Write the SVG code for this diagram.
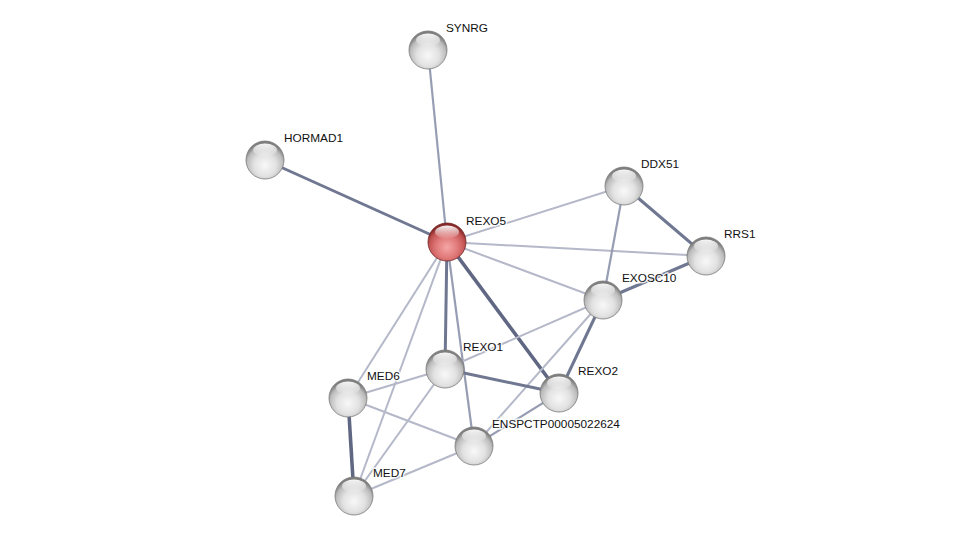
<svg xmlns="http://www.w3.org/2000/svg" width="976" height="541" viewBox="0 0 976 541">
<defs>
<radialGradient id="gGray" cx="50%" cy="64%" r="58%">
<stop offset="0" stop-color="#f8f8f8"/>
<stop offset="0.5" stop-color="#e2e2e2"/>
<stop offset="0.82" stop-color="#bcbcbc"/>
<stop offset="1" stop-color="#7e7e7e"/>
</radialGradient>
<radialGradient id="gRed" cx="50%" cy="64%" r="58%">
<stop offset="0" stop-color="#f5a6a6"/>
<stop offset="0.5" stop-color="#e07878"/>
<stop offset="0.82" stop-color="#c25252"/>
<stop offset="1" stop-color="#862828"/>
</radialGradient>
<linearGradient id="gHi" x1="0" y1="0" x2="0" y2="1">
<stop offset="0" stop-color="#fff" stop-opacity="0.95"/>
<stop offset="1" stop-color="#fff" stop-opacity="0.05"/>
</linearGradient>
<g id="sphere">
<circle r="19" fill="url(#gGray)" stroke="#7a7a7a" stroke-width="0.8"/>
<ellipse cx="0" cy="-10" rx="12" ry="6.5" fill="url(#gHi)"/>
</g>
<g id="sphereRed">
<circle r="19" fill="url(#gRed)" stroke="#6e2424" stroke-width="0.8"/>
<ellipse cx="0" cy="-10" rx="12" ry="6.5" fill="url(#gHi)"/>
</g>
</defs>
<style>
.e1{stroke:#b4b8c8;stroke-width:2;fill:none}
.e2{stroke:#979db3;stroke-width:2.2;fill:none}
.e3{stroke:#6f7791;stroke-width:3;fill:none}
.e4{stroke:#606783;stroke-width:3.6;fill:none}
text{font-family:"Liberation Sans",Arial,sans-serif;font-size:11.8px;fill:#111;paint-order:stroke;stroke:#fff;stroke-width:3px;stroke-opacity:0.8}
</style>
<rect width="976" height="541" fill="#fff"/>
<g id="connectors">
<line class="e2" x1="428" y1="50" x2="447" y2="242"/>
<line class="e3" x1="265" y1="160" x2="447" y2="242"/>
<line class="e1" x1="447" y1="242" x2="624" y2="186"/>
<line class="e1" x1="447" y1="242" x2="706" y2="256"/>
<line class="e1" x1="447" y1="242" x2="603" y2="300"/>
<line class="e3" x1="447" y1="242" x2="445" y2="369"/>
<line class="e4" x1="447" y1="242" x2="559" y2="393"/>
<line class="e2" x1="447" y1="242" x2="474" y2="446"/>
<line class="e1" x1="447" y1="242" x2="348" y2="398"/>
<line class="e1" x1="447" y1="242" x2="354" y2="496"/>
<line class="e3" x1="624" y1="186" x2="706" y2="256"/>
<line class="e2" x1="624" y1="186" x2="603" y2="300"/>
<line class="e3" x1="706" y1="256" x2="603" y2="300"/>
<line class="e1" x1="603" y1="300" x2="445" y2="369"/>
<line class="e3" x1="603" y1="300" x2="559" y2="393"/>
<line class="e1" x1="603" y1="300" x2="474" y2="446"/>
<line class="e3" x1="445" y1="369" x2="559" y2="393"/>
<line class="e2" x1="559" y1="393" x2="474" y2="446"/>
<line class="e4" x1="348" y1="398" x2="354" y2="496"/>
<line class="e1" x1="348" y1="398" x2="445" y2="369"/>
<line class="e1" x1="348" y1="398" x2="474" y2="446"/>
<line class="e1" x1="354" y1="496" x2="445" y2="369"/>
<line class="e1" x1="354" y1="496" x2="474" y2="446"/>
</g>
<g id="SYNRG"><use href="#sphere" x="428" y="50"/><text x="446" y="32">SYNRG</text></g>
<g id="HORMAD1"><use href="#sphere" x="265" y="160"/><text x="284" y="142">HORMAD1</text></g>
<g id="REXO5"><use href="#sphereRed" x="447" y="242"/><text x="466" y="225">REXO5</text></g>
<g id="DDX51"><use href="#sphere" x="624" y="186"/><text x="641" y="168">DDX51</text></g>
<g id="RRS1"><use href="#sphere" x="706" y="256"/><text x="724" y="238">RRS1</text></g>
<g id="EXOSC10"><use href="#sphere" x="603" y="300"/><text x="622" y="282">EXOSC10</text></g>
<g id="REXO1"><use href="#sphere" x="445" y="369"/><text x="463" y="351">REXO1</text></g>
<g id="MED6"><use href="#sphere" x="348" y="398"/><text x="367" y="380">MED6</text></g>
<g id="REXO2"><use href="#sphere" x="559" y="393"/><text x="578" y="375">REXO2</text></g>
<g id="ENSPCTP00005022624"><use href="#sphere" x="474" y="446"/><text x="492" y="428">ENSPCTP00005022624</text></g>
<g id="MED7"><use href="#sphere" x="354" y="496"/><text x="373" y="477">MED7</text></g>
</svg>
